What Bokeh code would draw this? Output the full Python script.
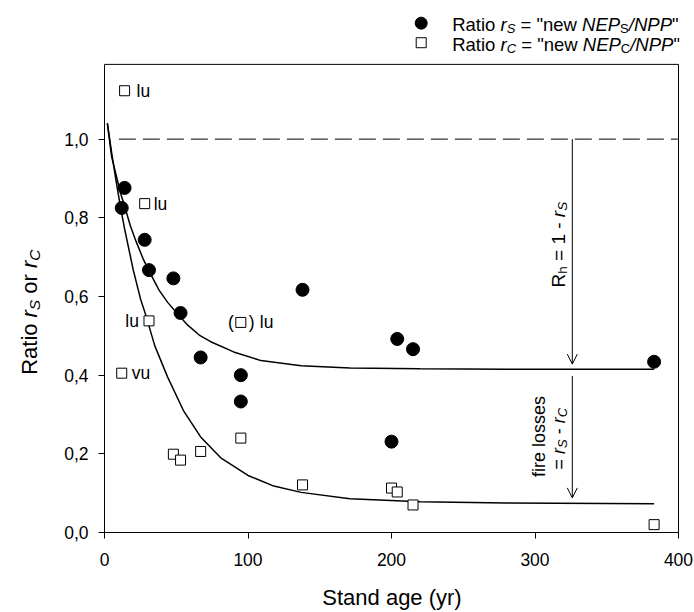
import math
from bokeh.plotting import figure
from bokeh.models import (Range1d, FixedTicker, Label, Arrow, OpenHead,
                          BoxAnnotation, CustomJSTickFormatter)
from bokeh.layouts import row
from bokeh.embed import file_html
from bokeh.resources import INLINE

# ---------------- data ----------------
# ratio r_S  (filled circles)
age_s = [12, 14, 28, 31, 48, 53, 67, 95, 95, 138, 200, 204, 215, 383]
ratio_s = [0.825, 0.876, 0.744, 0.667, 0.646, 0.558, 0.445, 0.400, 0.333,
           0.617, 0.231, 0.492, 0.466, 0.434]

# ratio r_C  (open squares) and their site tags
age_c = [14, 28, 31, 12, 48, 53, 67, 95, 138, 200, 204, 215, 383]
ratio_c = [1.123, 0.836, 0.538, 0.405, 0.199, 0.184, 0.206, 0.240, 0.121,
           0.113, 0.103, 0.070, 0.020]
tag_c = ["lu", "lu", "lu", "vu", "", "", "", "", "", "", "", "", ""]

# bracketed r_C value "(□) lu"
age_c_br = [95]
ratio_c_br = [0.534]

# fitted curves
fit_s_age = [2, 5, 8, 11, 14, 18, 22, 27, 31, 38, 44, 53, 58, 66, 74, 90,
             109, 137, 171, 220, 280, 383]
fit_s = [1.04, 0.955, 0.91, 0.865, 0.83, 0.78, 0.74, 0.695, 0.665, 0.616,
         0.585, 0.547, 0.527, 0.502, 0.485, 0.459, 0.437, 0.424, 0.418,
         0.416, 0.415, 0.415]
fit_c_age = [2, 5, 8, 11, 14, 17, 20, 25, 29, 35, 44, 55, 67, 81, 100, 118,
             137, 171, 220, 280, 383]
fit_c = [1.04, 0.965, 0.895, 0.83, 0.772, 0.72, 0.668, 0.595, 0.55, 0.475,
         0.395, 0.31, 0.243, 0.19, 0.145, 0.118, 0.102, 0.086, 0.078,
         0.075, 0.073]

ref_level = 1.0
ref_start = 10
arrow_x = 326
arrow_rh = (1.0, 0.428)
arrow_fire = (0.398, 0.088)

x_ticks = [0, 100, 200, 300, 400]
y_ticks = [0.0, 0.2, 0.4, 0.6, 0.8, 1.0]
x_max = 400
box_top = 1.19           # top of the drawn plot box

# ---------------- layout constants (pixels) ----------------
FONT = "Liberation Sans"
TOTAL_W, TOTAL_H = 694, 612
YT_W = 50                     # strip holding the y title
FRAME_L, BOX_R = 104, 678     # plot box, page pixels
FRAME_R = BOX_R + 1           # frame one pixel wider so the box edge shows
BOX_T, FRAME_B = 64, 533
PX_X = (BOX_R - FRAME_L) / x_max
PX_Y = (FRAME_B - BOX_T) / box_top
x_end = (FRAME_R - FRAME_L) / PX_X
y_end = FRAME_B / PX_Y        # frame reaches the top of the page

# Arial / Liberation Sans advance widths (1/1000 em)
W = {' ': 278, '"': 355, '(': 333, ')': 333, ',': 278, '-': 333, '.': 278,
     '/': 278, '=': 584, 'C': 722, 'E': 667, 'N': 722, 'P': 667, 'R': 722,
     'S': 667, 'a': 556, 'd': 556, 'e': 556, 'f': 278, 'g': 556, 'h': 556,
     'i': 222, 'l': 222, 'n': 556, 'o': 556, 'r': 333, 's': 500, 't': 278,
     'u': 556, 'v': 500, 'w': 722, 'y': 500}


def tw(s, size):
    return sum(W.get(ch, 556) for ch in s) * size / 1000.0


def label(fig, x, y, text, size, style="normal", angle=0.0, align="left",
          baseline="alphabetic", units="screen"):
    fig.add_layout(Label(x=x, y=y, x_units=units, y_units=units, text=text,
                         angle=angle, text_font=FONT, text_font_size=f"{size}px",
                         text_font_style=style, text_align=align,
                         text_baseline=baseline, text_color="black"))


def rich(fig, pieces, ax, ay, size, sub_size, sub_shift, rotated, to_units,
         units="screen"):
    """pieces placed from page pixel (ax, ay) = start of baseline."""
    pos = 0.0
    for text, style, is_sub in pieces:
        fs = sub_size if is_sub else size
        stripped = text.strip()
        lead = tw(text[:len(text) - len(text.lstrip())], fs)
        if stripped:
            d = sub_shift if is_sub else 0
            if rotated:
                px, py, ang = ax + d, ay - pos - lead, math.pi / 2
            else:
                px, py, ang = ax + pos + lead, ay + d, 0.0
            x, y = to_units(px, py)
            label(fig, x, y, stripped, fs, style, ang, units=units)
        pos += tw(text, fs)


def to_screen(px, py):        # page pixels -> frame screen units of p
    return px - FRAME_L, FRAME_B - py


def to_data(px, py):          # page pixels -> data units of p
    return (px - FRAME_L) / PX_X, (FRAME_B - py) / PX_Y


# ---------------- main plot ----------------
p = figure(width=TOTAL_W - YT_W, height=TOTAL_H,
           x_range=Range1d(0, x_end), y_range=Range1d(0, y_end),
           output_backend="svg", toolbar_location=None,
           min_border_left=FRAME_L - YT_W, min_border_right=TOTAL_W - FRAME_R,
           min_border_top=0, min_border_bottom=TOTAL_H - FRAME_B)
p.grid.visible = False
p.outline_line_color = None
p.background_fill_color = "white"
p.border_fill_color = "white"

for ax in (p.xaxis[0], p.yaxis[0]):
    ax.axis_line_color = "black"
    ax.major_tick_line_color = "black"
    ax.minor_tick_line_color = None
    ax.major_tick_in = 0
    ax.major_tick_out = 6
    ax.major_label_text_font = FONT
    ax.major_label_text_font_size = "17.5px"
    ax.major_label_text_color = "black"
p.xaxis.ticker = FixedTicker(ticks=x_ticks)
p.yaxis.ticker = FixedTicker(ticks=y_ticks)
p.xaxis.bounds = (0, x_max)
p.yaxis.bounds = (0, box_top)
p.yaxis.formatter = CustomJSTickFormatter(code="return tick.toFixed(1).replace('.', ',');")
p.xaxis.major_label_standoff = 14
p.yaxis.major_label_standoff = 10
p.xaxis.axis_label = "Stand age (yr)"
p.xaxis.axis_label_text_font = FONT
p.xaxis.axis_label_text_font_size = "22px"
p.xaxis.axis_label_text_font_style = "normal"
p.xaxis.axis_label_text_color = "black"
p.xaxis.axis_label_standoff = 16

# outline of the plot box
p.add_layout(BoxAnnotation(left=0, right=x_max, bottom=0, top=box_top,
                           fill_color=None, fill_alpha=0, line_color="black",
                           line_width=1, line_alpha=1))

# dashed reference line at 1,0
p.line([ref_start, x_max], [ref_level, ref_level], line_color="black",
       line_width=1, line_dash="17 7")

# fitted curves
p.line(fit_s_age, fit_s, line_color="black", line_width=1.5)
p.line(fit_c_age, fit_c, line_color="black", line_width=1.5)

# data
p.scatter(age_s, ratio_s, marker="circle", size=13, color="black")
p.scatter(age_c, ratio_c, marker="square", size=10, fill_color="white",
          line_color="black", line_width=1)
p.scatter(age_c_br, ratio_c_br, marker="square", size=10, fill_color="white",
          line_color="black", line_width=1)

# site tags
tag_offsets = {0: (12, "left"), 1: (9, "left"), 2: (-10, "right"), 3: (10, "left")}
for i, t in enumerate(tag_c):
    if t:
        dx, al = tag_offsets[i]
        p.add_layout(Label(x=age_c[i], y=ratio_c[i], x_offset=dx, text=t,
                           text_font=FONT, text_font_size="17.5px",
                           text_align=al, text_baseline="middle",
                           text_color="black"))
for txt, dx, al in (("(", -7, "right"), (")", 8, "left"), ("lu", 19, "left")):
    p.add_layout(Label(x=age_c_br[0], y=ratio_c_br[0], x_offset=dx, text=txt,
                       text_font=FONT, text_font_size="17.5px", text_align=al,
                       text_baseline="middle", text_color="black"))

# arrows
for y0, y1 in (arrow_rh, arrow_fire):
    p.add_layout(Arrow(x_start=arrow_x, y_start=y0, x_end=arrow_x, y_end=y1,
                       line_color="black", line_width=1,
                       end=OpenHead(size=10, line_width=1, line_color="black")))

# rotated annotations
rh = [("R", "normal", False), ("h", "normal", True), (" = 1 - ", "normal", False),
      ("r", "italic", False), ("S", "italic", True)]
rich(p, rh, 558, 288, 19, 13.5, 4, True, to_screen)
sx, sy = to_screen(538, 437)
label(p, sx, sy, "fire losses", 18, angle=math.pi / 2, align="center")
fl = [("= ", "normal", False), ("r", "italic", False), ("S", "italic", True),
      (" - ", "normal", False), ("r", "italic", False), ("C", "italic", True)]
rich(p, fl, 558, 470, 18, 13, 4, True, to_screen)

# legend (top right, inside the canvas above the box)
lx, ly = to_data(420.7, 22.7)
p.scatter([lx], [ly], marker="circle", size=12, color="black")
lx, ly = to_data(420.7, 42.3)
p.scatter([lx], [ly], marker="square", size=10, fill_color="white",
          line_color="black", line_width=1)
row1 = [("Ratio ", "normal", False), ("r", "italic", False), ("S", "italic", True),
        (' = "new ', "normal", False), ("NEP", "italic", False), ("S", "normal", True),
        ("/NPP", "italic", False), ('"', "normal", False)]
row2 = [("Ratio ", "normal", False), ("r", "italic", False), ("C", "italic", True),
        (' = "new ', "normal", False), ("NEP", "italic", False), ("C", "normal", True),
        ("/NPP", "italic", False), ('"', "normal", False)]
rich(p, row1, 451.7, 25, 18.5, 13, 4, False, to_screen)
rich(p, row2, 451.7, 45, 18.5, 13, 4, False, to_screen)

# ---------------- y title strip ----------------
yt = figure(width=YT_W, height=TOTAL_H, x_range=Range1d(0, YT_W),
            y_range=Range1d(FRAME_B, 0), output_backend="svg",
            toolbar_location=None, x_axis_type=None, y_axis_type=None,
            min_border_left=0, min_border_right=0, min_border_top=0,
            min_border_bottom=TOTAL_H - FRAME_B)
yt.grid.visible = False
yt.outline_line_color = None
ytitle = [("Ratio ", "normal", False), ("r", "italic", False), ("S", "italic", True),
          (" or ", "normal", False), ("r", "italic", False), ("C", "italic", True)]
rich(yt, ytitle, 29.3, 375, 22, 15.5, 5, True, lambda a, b: (a, b), units="data")

layout = row(yt, p)
open("out.html", "w").write(file_html(layout, INLINE))
